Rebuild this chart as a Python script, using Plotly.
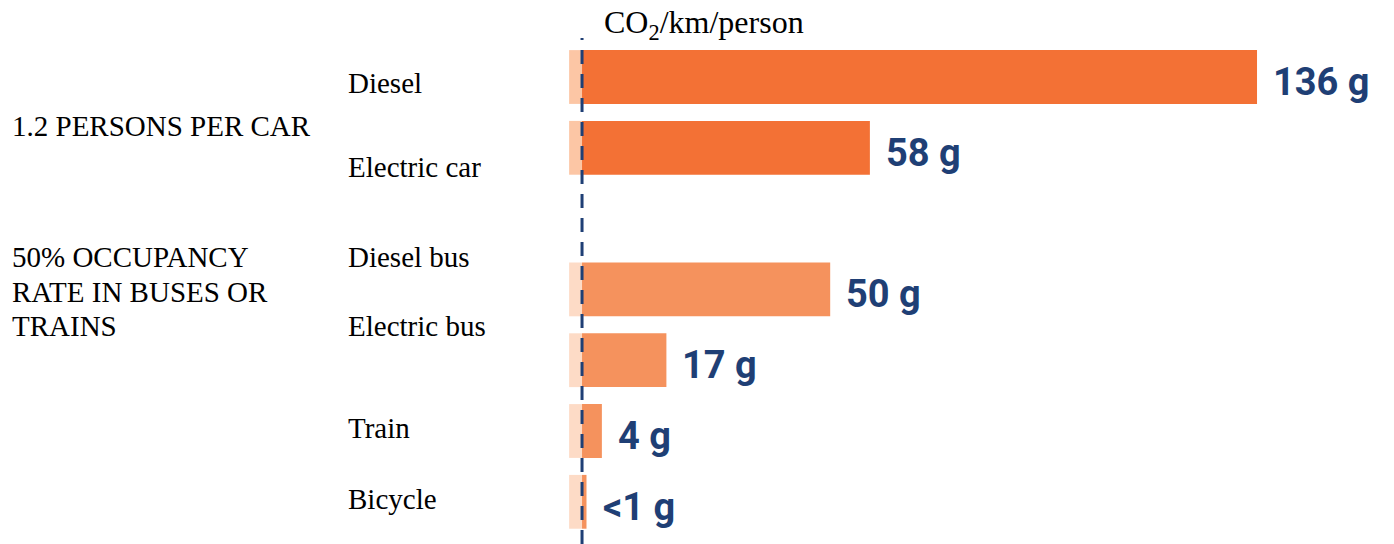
import plotly.graph_objects as go

# Emissions per passenger-km, grams of CO2
modes = ["Diesel", "Electric car", "Diesel bus", "Electric bus", "Train", "Bicycle"]
grams = [136, 58, 50, 17, 4, 0.9]
value_labels = ["136 g", "58 g", "50 g", "17 g", "4 g", "&lt;1 g"]
groups = ["car", "car", "transit", "transit", "transit", "transit"]

# category order with an empty slot between the car and transit groups
row_order = ["Diesel", "Electric car", " ", "Diesel bus", "Electric bus", "Train", "Bicycle"]

bar_color = {"car": "#f37135", "transit": "#f5925d"}
stub_color = {"car": "#fcc6a5", "transit": "#fddbc6"}
stub_len = 2.6

navy = "#1f3f75"
serif = "Liberation Serif, Times New Roman, serif"
label_font = "Roboto, Liberation Sans, sans-serif"

fig = go.Figure()

# pale stub to the left of the zero line
fig.add_trace(go.Bar(
    y=modes, x=[stub_len] * len(modes), base=[-stub_len] * len(modes),
    orientation="h", width=0.76,
    marker=dict(color=[stub_color[g] for g in groups], line=dict(width=0)),
    hoverinfo="skip", showlegend=False,
))

fig.add_trace(go.Bar(
    y=modes, x=grams, orientation="h", width=0.76,
    marker=dict(color=[bar_color[g] for g in groups], line=dict(width=0)),
    showlegend=False,
))

annotations = []
for m, v, lab in zip(modes, grams, value_labels):
    annotations.append(dict(
        x=v, y=m, xref="x", yref="y", text=lab, showarrow=False,
        xanchor="left", yanchor="middle", xshift=14, yshift=-5,
        font=dict(family=label_font, size=38, color=navy, weight="bold"),
    ))

# row names, set a little off their bars
name_shift = {"Diesel": -6, "Electric car": -19, "Diesel bus": 32,
              "Electric bus": 34, "Train": 3, "Bicycle": 3}
for m in modes:
    annotations.append(dict(
        x=0, y=m, xref="paper", yref="y", text=m, showarrow=False,
        xanchor="left", yanchor="middle", xshift=346, yshift=name_shift[m],
        font=dict(family=serif, size=29, color="black"),
    ))

# group captions
annotations.append(dict(
    x=0, y="Electric car", xref="paper", yref="y", text="1.2 PERSONS PER CAR",
    showarrow=False, xanchor="left", yanchor="middle", xshift=10, yshift=22,
    font=dict(family=serif, size=29, color="black"),
))
for line, dy in zip(["50% OCCUPANCY", "RATE IN BUSES OR", "TRAINS"], [32, -3, -37]):
    annotations.append(dict(
        x=0, y="Diesel bus", xref="paper", yref="y", text=line,
        showarrow=False, xanchor="left", yanchor="middle", xshift=10, yshift=dy,
        font=dict(family=serif, size=29, color="black"),
    ))

annotations.append(dict(
    x=0, y=1, xref="x", yref="paper", text="CO<sub>2</sub>/km/person",
    showarrow=False, xanchor="left", yanchor="top", xshift=20, yshift=-2,
    font=dict(family=serif, size=32, color="black"),
))

fig.update_layout(
    width=1394, height=544,
    margin=dict(l=0, r=0, t=0, b=0),
    paper_bgcolor="white", plot_bgcolor="white",
    barmode="overlay",
    xaxis=dict(range=[-117.27, 163.6], visible=False, fixedrange=True),
    yaxis=dict(type="category", categoryorder="array", categoryarray=row_order,
               range=[6.596, -1.0876], visible=False, fixedrange=True),
    annotations=annotations,
    shapes=[dict(
        type="line", xref="x", yref="paper", x0=0, x1=0, y0=0, y1=0.93,
        line=dict(color=navy, width=3, dash="14px,10px"), layer="above",
    )],
)

fig.write_html("out.html")
